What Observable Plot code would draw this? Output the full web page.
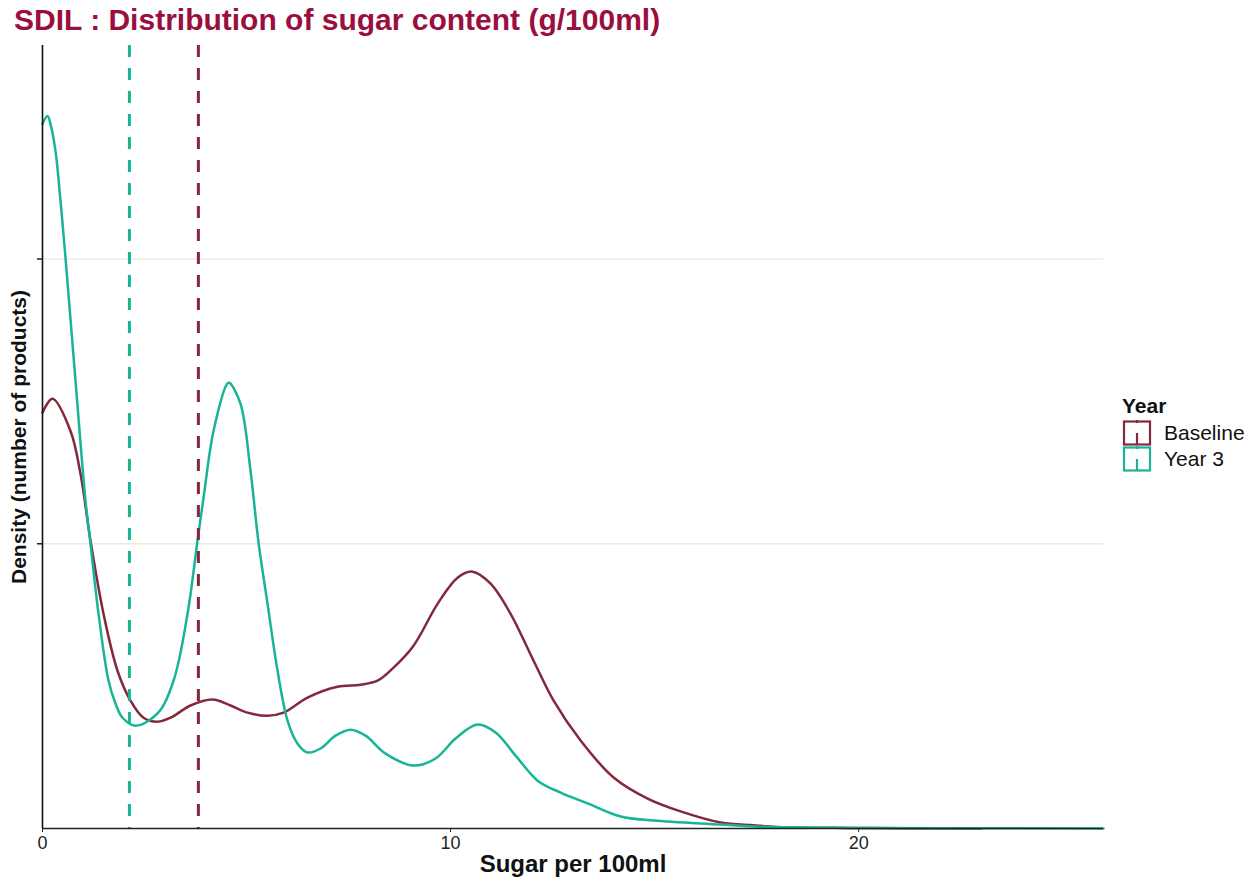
<!DOCTYPE html>
<html>
<head>
<meta charset="utf-8">
<script src="https://cdn.jsdelivr.net/npm/d3@7"></script>
<script src="https://cdn.jsdelivr.net/npm/@observablehq/plot@0.6"></script>
<style>
  html, body { margin: 0; padding: 0; background: #fff; }
  #wrap { position: relative; width: 1251px; height: 883px; font-family: "Liberation Sans", Arial, sans-serif; }
  #title { position: absolute; left: 14px; top: 3px; font-size: 30px; font-weight: bold; color: #9B0F3F; white-space: nowrap; }
  #legend { position: absolute; left: 1122px; top: 392px; font-size: 21px; color: #111; }
  #legend .ttl { font-weight: bold; height: 28px; line-height: 28px; }
  #legend .item { display: flex; align-items: center; height: 26px; }
  #legend .item svg { margin-right: 12px; }
</style>
</head>
<body>
<div id="wrap">
  <div id="title">SDIL : Distribution of sugar content (g/100ml)</div>
  <div id="chart"></div>
  <div id="legend"></div>
</div>
<script>
// ---- data ----
const seriesNames = ["Baseline", "Year 3"];
const seriesColors = ["#85283C", "#17B596"];

const baselineX = [0, 0.245, 0.686, 0.931, 1.176, 1.495, 1.838, 2.157, 2.475, 2.819, 3.137, 3.627, 4.167, 4.608, 5.025, 5.515, 5.907, 6.495, 7.23, 7.794, 8.211, 8.603, 9.093, 9.681, 10.172, 10.539, 10.98, 11.471, 12.034, 12.525, 13.186, 13.995, 14.828, 15.637, 16.618, 17.426, 18.26, 19.8, 21.0, 23.0];
const baselineY = [1.46, 1.509, 1.396, 1.246, 1.011, 0.754, 0.554, 0.449, 0.389, 0.375, 0.389, 0.432, 0.453, 0.432, 0.407, 0.396, 0.407, 0.46, 0.498, 0.505, 0.519, 0.565, 0.642, 0.789, 0.881, 0.902, 0.86, 0.754, 0.589, 0.449, 0.309, 0.179, 0.105, 0.06, 0.021, 0.011, 0.004, 0.002, 0.001, 0.0];

const year3X = [0, 0.123, 0.196, 0.319, 0.441, 0.564, 0.809, 1.054, 1.176, 1.373, 1.618, 1.789, 1.961, 2.279, 2.819, 3.211, 3.554, 3.799, 3.946, 4.191, 4.534, 4.583, 4.853, 5.098, 5.294, 5.515, 5.76, 6.005, 6.25, 6.495, 6.814, 7.181, 7.549, 7.917, 8.407, 9.093, 9.632, 10.123, 10.662, 11.103, 11.593, 12.132, 12.696, 13.358, 14.167, 14.975, 16.618, 17.426, 19.8, 22.0, 26.0];
const year3Y = [2.474, 2.502, 2.474, 2.379, 2.204, 2.004, 1.572, 1.151, 1.0, 0.754, 0.519, 0.439, 0.389, 0.361, 0.404, 0.519, 0.754, 1.011, 1.161, 1.396, 1.563, 1.565, 1.491, 1.256, 1.004, 0.789, 0.554, 0.379, 0.298, 0.267, 0.281, 0.326, 0.347, 0.326, 0.263, 0.221, 0.246, 0.316, 0.365, 0.337, 0.256, 0.168, 0.126, 0.088, 0.042, 0.028, 0.014, 0.007, 0.002, 0.001, 0.0];

// mean sugar content (dashed lines)
const meanValues = [3.82, 2.13];

const xTicks = [0, 10, 20];
const yTicks = [1, 2];

// ---- build tables ----
const curves = [
  ...baselineX.map((x, i) => ({series: seriesNames[0], x, y: baselineY[i]})),
  ...year3X.map((x, i) => ({series: seriesNames[1], x, y: year3Y[i]}))
];
const means = meanValues.map((v, i) => ({series: seriesNames[i], v}));

const chart = Plot.plot({
  width: 1251,
  height: 883,
  marginTop: 45,
  marginBottom: 55,
  marginLeft: 42,
  marginRight: 148,
  style: {fontFamily: "'Liberation Sans', Arial, sans-serif", fontSize: "18px", color: "#222", background: "#fff"},
  x: {domain: [0, 26], label: null},
  y: {domain: [0, 2.75], label: null},
  color: {domain: seriesNames, range: seriesColors},
  marks: [
    Plot.gridY(yTicks, {stroke: "#ECECDC", strokeOpacity: 1, strokeWidth: 1.3}),
    Plot.axisY(yTicks, {tickSize: 5, tickFormat: () => "", stroke: "#222", strokeWidth: 1.5, label: null}),
    Plot.axisX(xTicks, {tickSize: 4, tickPadding: 4, fontSize: 18, stroke: "#222", label: null}),
    Plot.line(curves, {x: "x", y: "y", z: "series", stroke: "series", strokeWidth: 2.5, curve: "catmull-rom"}),
    Plot.ruleX(means, {x: "v", stroke: "series", strokeWidth: 3, strokeDasharray: "12,11"}),
    Plot.ruleY([0], {stroke: "#222", strokeWidth: 1.6}),
    Plot.ruleX([0], {stroke: "#111", strokeWidth: 1.6}),
    Plot.text(["Sugar per 100ml"], {frameAnchor: "bottom", dy: 43, fontWeight: "bold", fontSize: 24, fill: "#111"}),
    Plot.text(["Density (number of products)"], {frameAnchor: "left", textAnchor: "middle", dx: -23, rotate: -90, fontWeight: "bold", fontSize: 21, fill: "#111"})
  ]
});
document.getElementById("chart").appendChild(chart);

// ---- legend ----
const legend = document.getElementById("legend");
const t = document.createElement("div");
t.className = "ttl";
t.textContent = "Year";
legend.appendChild(t);
seriesNames.forEach((name, i) => {
  const item = document.createElement("div");
  item.className = "item";
  const c = seriesColors[i];
  item.innerHTML = `<svg width="30" height="26" viewBox="0 0 30 26">
      <rect x="2" y="1.5" width="26" height="23" fill="none" stroke="${c}" stroke-width="2.2"/>
      <line x1="15" y1="24.5" x2="15" y2="13" stroke="${c}" stroke-width="2.2"/>
      <line x1="15" y1="0" x2="15" y2="3" stroke="${c}" stroke-width="2.2"/>
    </svg><span>${name}</span>`;
  legend.appendChild(item);
});
</script>
</body>
</html>
